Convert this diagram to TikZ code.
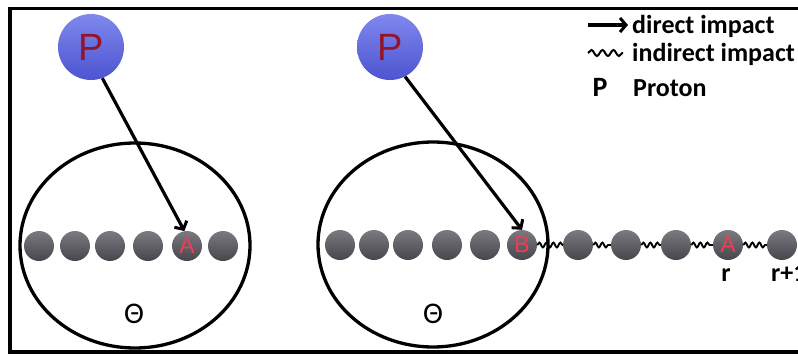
\documentclass[tikz,border=0pt]{standalone}
\usepackage{fontspec}
\setmainfont{Carlito}
\newfontfamily\lib{Liberation Sans}
\usetikzlibrary{arrows.meta,decorations.pathmorphing}
\definecolor{protonA}{RGB}{128,136,238}
\definecolor{protonB}{RGB}{76,84,208}
\definecolor{ballA}{RGB}{122,122,128}
\definecolor{ballB}{RGB}{70,70,76}
\definecolor{pred}{RGB}{150,20,40}
\definecolor{lred}{RGB}{236,62,84}
\begin{document}
\begin{tikzpicture}[x=1pt,y=-1pt,
  ball/.style={circle, minimum size=30pt, inner sep=0pt, top color=ballA, bottom color=ballB, draw=none, font=\lib\fontsize{23}{23}\selectfont, text=lred},
  proton/.style={circle, minimum size=66pt, inner sep=0pt, top color=protonA, bottom color=protonB, draw=none, font=\lib\fontsize{38}{38}\selectfont, text=pred},
  nucleus/.style={line width=3.3pt},
  imp/.style={line width=3.2pt, -{Straight Barb[length=6pt,width=14pt,line width=3pt]}},
  wavy/.style={line width=1.9pt, decorate, decoration={snake, segment length=7pt, amplitude=2.4pt}},
  legwavy/.style={line width=2pt, decorate, decoration={snake, segment length=11pt, amplitude=3pt}},
  legend/.style={font=\bfseries\fontsize{26}{26}\selectfont, inner sep=0pt},
  thetalbl/.style={font=\fontsize{30}{30}\selectfont, inner sep=0pt},
  frame/.style={line width=3.6pt}
]
\useasboundingbox (0,0) rectangle (798,356);
\fill[white] (0,0) rectangle (798,356);
\draw[frame] (798,8.5) -- (10,8.5) -- (10,352) -- (798,352);

% nuclei
\draw[nucleus] (135,245.5) ellipse [x radius=115, y radius=102.5];
\draw[nucleus] (433,244.5) ellipse [x radius=115, y radius=102.5];

% left chain
\node[ball] (l1) at (39,246) {};
\node[ball] (l2) at (75,246) {};
\node[ball] (l3) at (110,246) {};
\node[ball] (l4) at (148,246) {};
\node[ball] (la) at (187,246) {A};
\node[ball] (l6) at (223,246) {};

% right chain
\node[ball] (r1) at (340,245) {};
\node[ball] (r2) at (374,245) {};
\node[ball] (r3) at (408,245) {};
\node[ball] (r4) at (447,245) {};
\node[ball] (r5) at (485,245) {};
\node[ball] (rb) at (522,245) {B};
\node[ball] (r7) at (578,245) {};
\node[ball] (r8) at (626,245) {};
\node[ball] (r9) at (676,245) {};
\node[ball] (ra) at (728,245) {A};
\node[ball] (r11) at (782,245) {};

\draw[wavy] (rb.east) -- (r7.west);
\draw[wavy] (r7.east) -- (r8.west);
\draw[wavy] (r8.east) -- (r9.west);
\draw[wavy] (r9.east) -- (ra.west);
\draw[wavy] (ra.east) -- (r11.west);

% protons
\node[proton] (pl) at (91,47) {P};
\node[proton] (pr) at (390,47) {P};

\draw[imp] (pl.-70) -- (la.100);
\draw[imp] (pr.-63) -- (rb.north);

% theta labels
\node[thetalbl] (th1) at (134,314) {Θ};
\node[thetalbl] (th2) at (433,314) {Θ};

% r labels
\node[legend, anchor=base] (rl) at (726,281) {r};
\node[legend, anchor=base west] (rl1) at (771,281) {r+1};

% legend
\coordinate (a1) at (588,25);
\coordinate (a2) at (628,25);
\draw[imp] (a1) -- (a2);
\node[legend, anchor=base west] (t1) at (632,33) {direct impact};
\coordinate (w1) at (588,53);
\coordinate (w2) at (623,53);
\draw[legwavy] (w1) -- (w2);
\node[legend, anchor=base west] (t2) at (632,61) {indirect impact};
\node[legend, anchor=base, font=\bfseries\fontsize{28}{28}\selectfont] (tp) at (600,96) {P};
\node[legend, anchor=base west] (t3) at (633,96) {Proton};
\end{tikzpicture}
\end{document}
